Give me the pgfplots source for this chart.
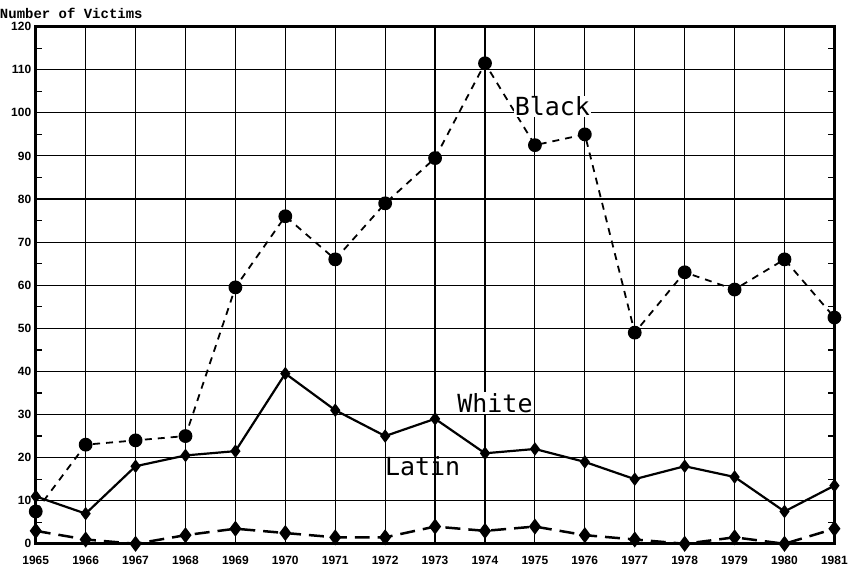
\documentclass[border={0pt 1pt 0pt 8pt}]{standalone}
\usepackage{pgfplots}
\pgfplotsset{compat=1.18}
\usepackage{fontspec}
\setmainfont{Liberation Sans}
\newfontfamily\monof{DejaVu Sans Mono}
\newfontfamily\titlef{Liberation Mono}
\begin{document}
\begin{tikzpicture}[x=1pt,y=1pt]
\begin{axis}[
  scale only axis,
  width=800pt, height=518pt,
  xmin=1965, xmax=1981, ymin=0, ymax=120,
  xtick={1965,...,1981},
  xticklabels={1965,1966,1967,1968,1969,1970,1971,1972,1973,1974,1975,1976,1977,1978,1979,1980,1981},
  ytick={0,10,...,120},
  minor y tick num=1,
  grid=major,
  major grid style={black, line width=1.1pt},
  axis line style={black, line width=3pt},
  tick style={black, line width=1.3pt},
  major tick length=0pt,
  minor tick length=6pt,
  tick align=inside,
  ticklabel style={font=\fontsize{12}{12}\selectfont\bfseries},
  /pgf/number format/assume math mode=true,
  /pgf/number format/1000 sep={},
  xticklabel style={yshift=-9pt},
  yticklabel style={xshift=-1pt},
  clip=false,
]
% Black
\addplot[black, line width=1.8pt, dash pattern=on 7pt off 6pt, mark=*, mark size=6pt, mark options={solid}] coordinates {
(1965,7.5) (1966,23) (1967,24) (1968,25) (1969,59.5) (1970,76) (1971,66) (1972,79) (1973,89.5) (1974,111.5) (1975,92.5) (1976,95) (1977,49) (1978,63) (1979,59) (1980,66) (1981,52.5)};
% White
\addplot[black, line width=2.2pt, mark=diamond*, mark size=5pt] coordinates {
(1965,11) (1966,7) (1967,18) (1968,20.5) (1969,21.5) (1970,39.5) (1971,31) (1972,25) (1973,29) (1974,21) (1975,22) (1976,19) (1977,15) (1978,18) (1979,15.5) (1980,7.5) (1981,13.5)};
% Latin
\addplot[black, line width=2.5pt, dash pattern=on 15pt off 8pt, mark=diamond*, mark size=6pt, mark options={solid}] coordinates {
(1965,3) (1966,1) (1967,0) (1968,2) (1969,3.5) (1970,2.5) (1971,1.5) (1972,1.5) (1973,4) (1974,3) (1975,4) (1976,2) (1977,1) (1978,0) (1979,1.5) (1980,0) (1981,3.5)};
\node[font=\monof\fontsize{25}{25}\selectfont, fill=white, inner sep=1pt] at (axis cs:1975.35,101.5) {Black};
\node[font=\monof\fontsize{25}{25}\selectfont, fill=white, inner sep=1pt] at (axis cs:1974.2,32.7) {White};
\node[font=\monof\fontsize{25}{25}\selectfont, inner sep=1pt] at (axis cs:1972.75,18) {Latin};
\node[font=\titlef\fontsize{14}{14}\selectfont\bfseries, anchor=south west, inner sep=0pt] at ([xshift=-36pt,yshift=8pt]rel axis cs:0,1) {Number of Victims};
\end{axis}
\end{tikzpicture}
\end{document}
